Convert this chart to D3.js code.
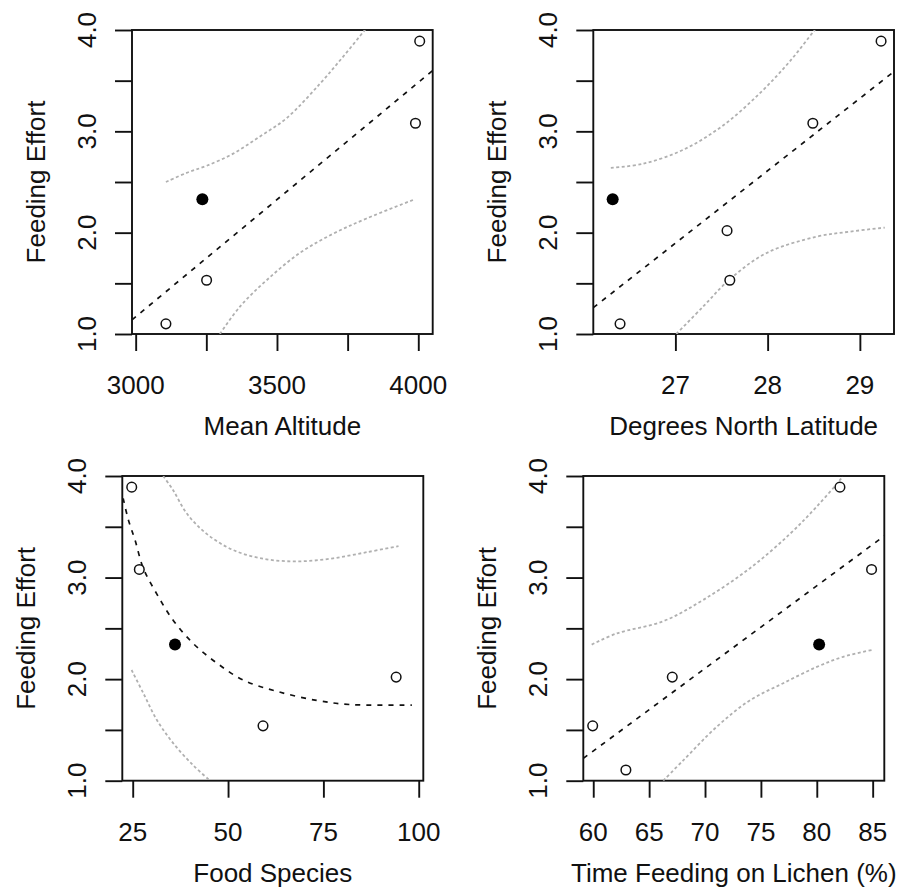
<!DOCTYPE html>
<html>
<head>
<meta charset="utf-8">
<script src="https://cdn.jsdelivr.net/npm/d3@7"></script>
<style>
    body { margin: 0; background: #fff; }
    svg text { font-family: "Liberation Sans", Arial, sans-serif; font-size: 26px; fill: #111; }
</style>
</head>
<body>
<svg id="chart" width="901" height="887"></svg>
<script>
// shared y axis
const yTicks = [1, 1.5, 2, 2.5, 3, 3.5, 4];
const yTickLabels = [1, 2, 3, 4];
const yTitle = "Feeding Effort";

// Mean Altitude
const altX = [3107, 3251, 3990, 4005];
const altY = [1.10, 1.53, 3.08, 3.89];
const altHighlight = [3236, 2.33];
const altFit = [[2987, 1.14], [4051, 3.60]];
const altUpper = [[3107, 2.50], [3180, 2.59], [3251, 2.66], [3345, 2.78], [3440, 2.95], [3534, 3.13], [3652, 3.47], [3735, 3.74], [3811, 4.0], [3840, 4.1]];
const altLower = [[3298, 1.0], [3369, 1.27], [3463, 1.53], [3581, 1.80], [3699, 1.99], [3817, 2.14], [3988, 2.33]];
const altTicks = [3000, 3250, 3500, 3750, 4000];
const altTickLabels = [3000, 3500, 4000];

// Degrees North Latitude
const latX = [26.40, 27.56, 27.59, 28.49, 29.23];
const latY = [1.10, 2.02, 1.53, 3.08, 3.89];
const latHighlight = [26.32, 2.33];
const latFit = [[26.11, 1.26], [29.37, 3.59]];
const latUpper = [[26.30, 2.64], [26.65, 2.68], [27.09, 2.82], [27.52, 3.06], [27.92, 3.38], [28.24, 3.69], [28.51, 4.0], [28.6, 4.1]];
const latLower = [[27.01, 1.0], [27.30, 1.27], [27.59, 1.54], [27.99, 1.80], [28.53, 1.96], [28.89, 2.01], [29.27, 2.05]];
const latTicks = [27, 28, 29];
const latTickLabels = [27, 28, 29];

// Food Species
const foodX = [24.74, 26.73, 59.17, 94.08];
const foodY = [3.89, 3.08, 1.54, 2.02];
const foodHighlight = [36.09, 2.34];
const foodFit = [[22.5, 3.78], [23.85, 3.57], [25.6, 3.37], [27.8, 3.09], [31.3, 2.84], [35.6, 2.58], [40.9, 2.35], [47.0, 2.16], [54.0, 1.99], [62.8, 1.88], [73.3, 1.79], [82.0, 1.75], [98.2, 1.745]];
const foodUpper = [[33.0, 4.0], [35.6, 3.86], [39.2, 3.63], [44.4, 3.43], [51.4, 3.27], [60.1, 3.18], [68.9, 3.16], [77.6, 3.19], [86.4, 3.25], [94.7, 3.31]];
const foodLower = [[24.7, 2.09], [27.8, 1.86], [31.3, 1.60], [35.6, 1.37], [40.9, 1.15], [45.3, 1.0]];
const foodTicks = [25, 50, 75, 100];
const foodTickLabels = [25, 50, 75, 100];

// Time Feeding on Lichen (%)
const lichenX = [59.95, 62.92, 67.07, 82.07, 84.90];
const lichenY = [1.54, 1.105, 2.02, 3.89, 3.08];
const lichenHighlight = [80.21, 2.34];
const lichenFit = [[59.11, 1.22], [86.04, 3.41]];
const lichenUpper = [[59.86, 2.34], [62.1, 2.45], [66.26, 2.57], [69.84, 2.78], [74.0, 3.09], [77.6, 3.43], [80.0, 3.70], [82.07, 3.96], [82.3, 4.0]];
const lichenLower = [[66.26, 1.0], [68.05, 1.20], [71.04, 1.53], [74.0, 1.79], [77.0, 1.96], [80.0, 2.12], [82.36, 2.22], [85.04, 2.29]];
const lichenTicks = [60, 65, 70, 75, 80, 85];
const lichenTickLabels = [60, 65, 70, 75, 80, 85];

class fitPanel {
    constructor(svg, id, box, xDomain) {
        this.svg = svg;
        this.id = id;
        this.box = box;   // left, right, top, bottom in px
        this.xScale = d3.scaleLinear().domain(xDomain).range([box.left, box.right]);
        this.yScale = d3.scaleLinear().domain([1, 4]).range([box.bottom, box.top]);
    }

    draw(p) {
        const b = this.box;
        const g = this.svg.append("g");

        g.append("clipPath").attr("id", "clip" + this.id)
            .append("rect")
            .attr("x", b.left).attr("y", b.top)
            .attr("width", b.right - b.left).attr("height", b.bottom - b.top);

        // x axis
        const xAxis = g.append("g")
            .attr("transform", `translate(0, ${b.bottom})`)
            .call(d3.axisBottom(this.xScale).tickValues(p.ticks).tickSize(17).tickFormat(""));
        xAxis.selectAll("text").remove();
        g.selectAll(".xlab").data(p.tickLabels).join("text")
            .attr("x", d => this.xScale(d))
            .attr("y", b.bottom + 60)
            .attr("text-anchor", "middle")
            .text(d => d);

        // y axis
        const yAxis = g.append("g")
            .attr("transform", `translate(${b.left}, 0)`)
            .call(d3.axisLeft(this.yScale).tickValues(yTicks).tickSize(17).tickFormat(""));
        yAxis.selectAll("text").remove();
        g.selectAll(".ylab").data(yTickLabels).join("text")
            .attr("transform", d => `translate(${b.left - 36}, ${this.yScale(d)}) rotate(-90)`)
            .attr("text-anchor", "middle")
            .text(d => d.toFixed(1));

        [xAxis, yAxis].forEach(a => {
            a.select(".domain").remove();
            a.selectAll("line").attr("stroke", "#111").attr("stroke-width", 1.9);
        });

        g.append("rect")
            .attr("x", b.left).attr("y", b.top)
            .attr("width", b.right - b.left).attr("height", b.bottom - b.top)
            .attr("fill", "none").attr("stroke", "#111").attr("stroke-width", 1.9);

        // titles
        g.append("text")
            .attr("x", (b.left + b.right) / 2)
            .attr("y", b.bottom + 101)
            .attr("text-anchor", "middle")
            .text(p.title);
        g.append("text")
            .attr("transform", `translate(${b.left - 87}, ${(b.top + b.bottom) / 2}) rotate(-90)`)
            .attr("text-anchor", "middle")
            .text(yTitle);

        const line = d3.line()
            .x(d => this.xScale(d[0]))
            .y(d => this.yScale(d[1]))
            .curve(d3.curveCatmullRom);

        const lines = g.append("g").attr("clip-path", `url(#clip${this.id})`);
        [p.upper, p.lower].forEach(band => {
            lines.append("path")
                .attr("d", line(band))
                .attr("fill", "none")
                .attr("stroke", "#b0b0b0")
                .attr("stroke-width", 1.8)
                .attr("stroke-dasharray", "3,2.5");
        });
        lines.append("path")
            .attr("d", line(p.fit))
            .attr("fill", "none")
            .attr("stroke", "#111")
            .attr("stroke-width", 1.7)
            .attr("stroke-dasharray", "5,6");

        // points
        g.selectAll(".pt").data(p.x).join("circle")
            .attr("cx", d => this.xScale(d))
            .attr("cy", (d, i) => this.yScale(p.y[i]))
            .attr("r", 4.8)
            .attr("fill", "#fff")
            .attr("stroke", "#111")
            .attr("stroke-width", 1.5);
        g.append("circle")
            .attr("cx", this.xScale(p.highlight[0]))
            .attr("cy", this.yScale(p.highlight[1]))
            .attr("r", 6)
            .attr("fill", "#000");
    }
}

const svg = d3.select("#chart");

new fitPanel(svg, 1, {left: 132, right: 432.7, top: 30, bottom: 334}, [2987, 4051]).draw({
    title: "Mean Altitude", x: altX, y: altY, highlight: altHighlight,
    fit: altFit, upper: altUpper, lower: altLower, ticks: altTicks, tickLabels: altTickLabels
});
new fitPanel(svg, 2, {left: 593.3, right: 894, top: 30, bottom: 334}, [26.11, 29.37]).draw({
    title: "Degrees North Latitude", x: latX, y: latY, highlight: latHighlight,
    fit: latFit, upper: latUpper, lower: latLower, ticks: latTicks, tickLabels: latTickLabels
});
new fitPanel(svg, 3, {left: 122.3, right: 423.3, top: 476, bottom: 780.7}, [22.27, 101.2]).draw({
    title: "Food Species", x: foodX, y: foodY, highlight: foodHighlight,
    fit: foodFit, upper: foodUpper, lower: foodLower, ticks: foodTicks, tickLabels: foodTickLabels
});
new fitPanel(svg, 4, {left: 583.3, right: 884.3, top: 476, bottom: 780.7}, [59.11, 86.04]).draw({
    title: "Time Feeding on Lichen (%)", x: lichenX, y: lichenY, highlight: lichenHighlight,
    fit: lichenFit, upper: lichenUpper, lower: lichenLower, ticks: lichenTicks, tickLabels: lichenTickLabels
});
</script>
</body>
</html>
